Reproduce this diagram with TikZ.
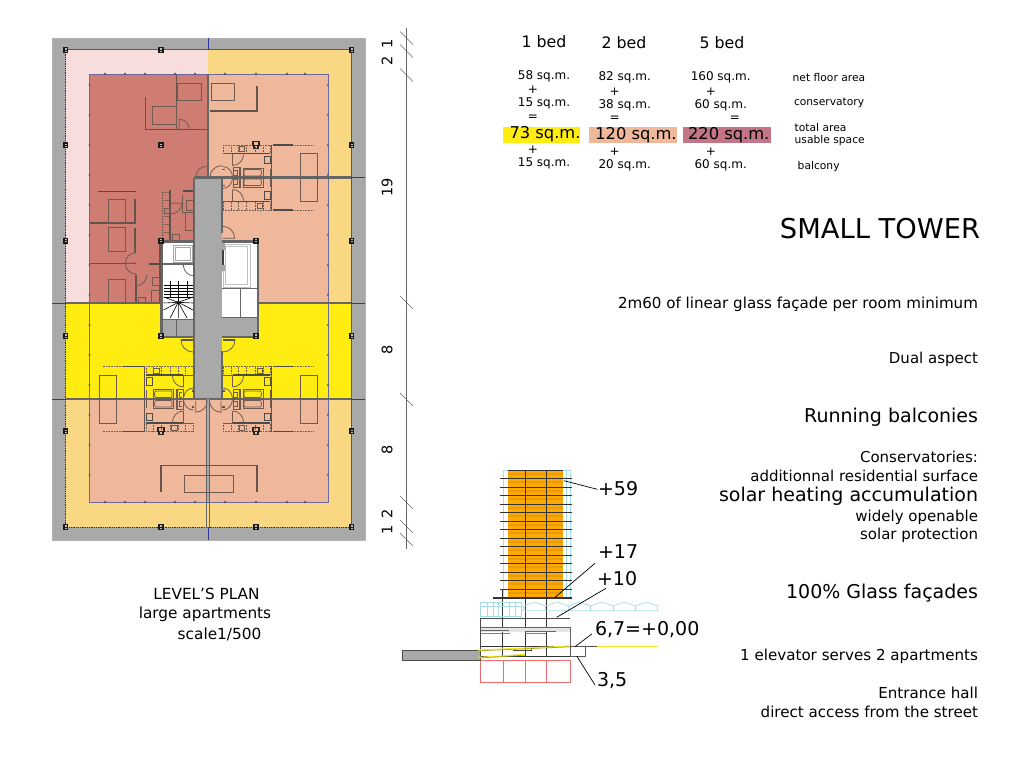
\documentclass[tikz,border=0pt]{standalone}
\usepackage{fontspec}
\setmainfont{DejaVu Sans}
\definecolor{slab}{HTML}{A9A9A9}
\definecolor{palepink}{HTML}{F7DEDC}
\definecolor{paleorange}{HTML}{FAD782}
\definecolor{brightyellow}{HTML}{FFEC10}
\definecolor{redapt}{HTML}{CF7C72}
\definecolor{orangeapt}{HTML}{F0B89A}
\definecolor{rosebox}{HTML}{C27585}
\definecolor{towerorange}{HTML}{FFA800}
\definecolor{towerband}{HTML}{E89C08}
\definecolor{gridblue}{HTML}{2A3A9A}
\definecolor{edgeblue}{HTML}{6A6A9E}
\definecolor{wallgrey}{HTML}{666666}
\definecolor{fitline}{HTML}{6E5C52}
\definecolor{glassblue}{HTML}{A8DCE8}
\definecolor{redline}{HTML}{F26A6A}
\definecolor{lineyellow}{HTML}{F5E820}
\tikzset{
  txt/.style={inner sep=0pt,outer sep=0pt,font=\fontsize{#1}{#1}\selectfont},
  txt/.default=12,
  rtxt/.style={txt=#1,anchor=east},
  ltxt/.style={txt=#1,anchor=west},
  wall/.style={draw=wallgrey,line width=2.1pt},
  thinwall/.style={draw=fitline!90!black,line width=1.3pt},
  fit/.style={draw=fitline,line width=0.8pt},
  fitdot/.style={draw=fitline,line width=0.6pt,densely dotted},
  darkfit/.style={draw=black!70,line width=1.2pt},
  gridline/.style={draw=gridblue,line width=0.9pt},
  glass/.style={draw=glassblue,line width=0.7pt},
  floorline/.style={draw=black!80,line width=1pt},
  podium/.style={draw=black!70,line width=1.5pt},
  leader/.style={draw=black,line width=0.7pt},
  dim/.style={draw=black!60,line width=0.5pt},
  col/.style={draw=black!90,fill=black!25,line width=1.4pt}
}
% door swing: hinge (#1,#2), directions #3,#4, radius #5; leaf along y or x
\newcommand\doorv[5]{\draw[fit] ({#1},{#2}) -- ({#1},{#2+#4*#5}) .. controls ({#1+#3*0.55*#5},{#2+#4*#5}) and ({#1+#3*#5},{#2+#4*0.55*#5}) .. ({#1+#3*#5},{#2});}
\newcommand\doorh[5]{\draw[fit] ({#1},{#2}) -- ({#1+#3*#5},{#2}) .. controls ({#1+#3*#5},{#2+#4*0.55*#5}) and ({#1+#3*0.55*#5},{#2+#4*#5}) .. ({#1},{#2+#4*#5});}
\newcommand\bathmodule[1]{%
  \path[fitdot] (1,-32.5) rectangle (48,-24);
  \foreach \x in {9,16,24,33,41}{\path[fitdot] (\x,-32.5) -- (\x,-24);}
  \path[fitdot] (49,-32.5) -- (91,-32.5);
  \path[darkfit] (11,-24) -- (48,-24);
  \path[fit] (1,-24) -- (11,-24);
  \path[thinwall] (49.5,-32.5) -- (49.5,0);
  \path[darkfit] (51,-32.5) -- (71,-32.5);
  \path[fit] (78,-24) rectangle (95,0);
  \path[fit] (21,-9.5) rectangle (41,0);
  \path[fit] (23,-8) -- (38,-8) .. controls (40,-8) and (40,-1.5) .. (38,-1.5) -- (23,-1.5) .. controls (21.5,-1.5) and (21.5,-8) .. (23,-8);
  \path[darkfit,line width=0.9pt] (42,-21.5) rectangle (48,-14);
  \path[fit] (#1,-31) rectangle (#1+5.5,-26);
  \path[fit,line width=1pt] (10.5,-24) -- (10.5,-12);
  \path[fit] (21.5,-23) .. controls (21.5,-17) and (16.5,-12) .. (10.5,-12);
  \path[fit] (10.5,0) .. controls (10.5,-6) and (6.5,-11) .. (0.5,-11);
  \path[fit] (11,-10) rectangle (18,0);
  \path[fit] (12,-7) -- (15,-7) -- (15,-2) -- (12,-2);
  \path[fit] (17,-10) -- (17,0) (41,-10) -- (41,0) (48,-9) -- (48,0);
  \path[thinwall] (0,-8) -- (2.5,-8);
}
\begin{document}
\begin{tikzpicture}[x=1pt,y=-1pt]
\useasboundingbox (0,0) rectangle (1024,768);
\fill[white] (0,0) rectangle (1024,768);
% --- plan: slab and balconies
\fill[slab] (52,38) rectangle (365,540);
\draw[black!30,line width=0.6pt] (52,38) rectangle (365,540);
\fill[palepink] (65.5,50) rectangle (208,303);
\fill[paleorange] (208,50) rectangle (351,303);
\fill[paleorange] (65.5,399) rectangle (351,527);
\fill[brightyellow] (65.5,303) rectangle (351,399);
\fill[redapt] (89.5,74) rectangle (208,303);
\fill[orangeapt] (208,74) rectangle (328,303);
\fill[orangeapt] (89.5,399) rectangle (328,502);
% perimeter
\draw[black!65,line width=1pt] (65.5,50) -- (351,50) -- (351,527);
\draw[black!80,line width=0.8pt,densely dotted] (65.5,50) -- (65.5,527) -- (351,527);
% floor edge
\draw[edgeblue,line width=0.9pt] (89.5,74) rectangle (328,502);
\foreach \p in {85,115,145,175,205,235,265,295,325,355,385,415,445,475}{
  \fill[edgeblue!80!black] (89.5,\p) circle (1.2);
  \fill[edgeblue!80!black] (328,\p) circle (1.2);
}
\foreach \p in {105,125,145,175,195,225,256,287,305}{
  \fill[edgeblue!80!black] (\p,74) circle (1.3);
  \fill[edgeblue!80!black] (\p,502) circle (1.3);
}
% core
\fill[white] (162,241.5) rectangle (194,319);
\fill[slab] (162,319) rectangle (194,336);
\fill[white] (222,241.5) rectangle (258,317);
\fill[slab] (222,317) rectangle (258,336);
\fill[slab] (194,177.5) rectangle (222,399);
\draw[wall] (161.5,241.5) -- (194,241.5);
\draw[wall] (222,241.5) -- (258,241.5) -- (258,337);
\draw[wall] (161.5,241.5) -- (161.5,337);
\draw[wall] (194,177.5) -- (194,399);
\draw[wall] (222,177.5) -- (222,233) (222,351) -- (222,399);
\draw[black!35,line width=1pt] (173,245) rectangle (192.7,262.7);
\draw[black!35,line width=0.6pt] (175.5,247.5) rectangle (190.2,260.2);
\draw[black!60,line width=1.2pt] (162,264) -- (194,264);
\doorv{194.3}{265}{-1}{1}{11}
\draw[black!25,line width=1pt] (223,244) rectangle (250,287);
\draw[black!25,line width=0.7pt] (225.5,246.5) rectangle (247.5,284.5);
\draw[black!75,line width=1.8pt] (223,250) -- (223,265);
\fill[black!35] (221,243) rectangle (225,250) (221,265) rectangle (225,271);
\draw[black!60,line width=1pt] (222,288) -- (258,288);
\draw[black!60,line width=1pt] (240.7,288) -- (240.7,317) (222,317) -- (258,317);
\draw[black!60,line width=1pt] (176.7,319) -- (176.7,336) (162,319) -- (194,319);
% stairs
\foreach \y in {285,288,291,294,297}{\draw[black,line width=0.7pt] (163.5,\y) -- (193,\y);}
\draw[black,line width=0.9pt] (178.3,281) -- (178.3,302.3);
\draw[black,line width=0.7pt] (170,281) -- (170,297) (187,281) -- (187,297);
\draw[black,line width=0.6pt] (178.3,302.3) -- (163.5,297) (178.3,302.3) -- (163.5,303) (178.3,302.3) -- (163.5,310) (178.3,302.3) -- (170,318) (178.3,302.3) -- (178.3,318) (178.3,302.3) -- (187,318) (178.3,302.3) -- (193,310) (178.3,302.3) -- (193,303) (178.3,302.3) -- (193,297);
\fill[black] (178.3,302.3) circle (1.4);
% structural walls
\draw[wall] (208,74) -- (208,177.5);
\draw[wall,line width=2.9pt] (194,177.5) -- (351,177.5);
\draw[wall,line width=2.9pt] (65.5,303) -- (162,303) (258,303) -- (351,303) (65.5,399) -- (351,399);
\draw[wallgrey,line width=0.9pt,fill=slab] (206.5,398) rectangle (209.5,502);
\draw[black!60,line width=0.6pt,fill=paleorange] (206.5,502) rectangle (209.5,527);
\draw[wall] (161.5,337) -- (194,337) (222,337) -- (258,337);
\draw[black!70,line width=1.2pt] (223,340) -- (235,340) (193,340) -- (181,340);
% right upper apartment partitions
\draw[thinwall] (210,111) -- (257,111) -- (257,86);
\draw[fit] (211,83) rectangle (234,100.7);
% left red apartment partitions
\draw[thinwall] (145.7,97) -- (145.7,129.3) -- (207,129.3);
\draw[thinwall] (176.7,75) -- (176.7,129.3);
\draw[fit] (152.7,106) rectangle (176.7,124);
\draw[fit] (177.7,83) rectangle (201.7,100.7);
\doorv{179.3}{129.3}{1}{-1}{10}
\doorh{206.7}{177.3}{-1}{-1}{11}
\doorh{221.7}{177.3}{-1}{-1}{11.7}
\draw[darkfit,line width=0.9pt] (98,191.3) -- (136,191.3);
\draw[thinwall] (135,199) -- (135,223) -- (90,223);
\draw[thinwall] (135,228) -- (135,253);
\draw[thinwall] (90,263.3) -- (136,263.3);
\draw[fit] (108.7,199) rectangle (125.3,222.7);
\draw[fit] (108.7,227.7) rectangle (125.3,251);
\draw[fit] (108.7,279) rectangle (125.3,303);
\doorh{136}{263.3}{-1}{-1}{10.7}
\doorh{136}{263.3}{-1}{1}{10.7}
\draw[thinwall] (136,275) -- (136,303);
% red bathrooms
\draw[fitdot] (162,192) rectangle (170,240);
\foreach \y in {200,208,216,224,232}{\draw[fitdot] (162,\y) -- (170,\y);}
\draw[thinwall] (170,190) -- (170,240);
\draw[darkfit] (182.7,191) -- (193,191);
\draw[fit] (185,212) rectangle (193,230);
\draw[fit] (186,200) rectangle (193,210);
\draw[fit] (172.7,234) rectangle (179,240);
\draw[fit] (164,208) rectangle (169,213);
\doorh{171}{203.3}{1}{1}{10.7}
\draw[fit] (182,195) -- (182,212) (182,212) -- (193,212);
\doorv{136}{275}{1}{1}{10.7}
\draw[darkfit] (149,264) -- (160,264);
\draw[thinwall] (160,241) -- (160,303);
\draw[fit] (151.7,290) rectangle (160,302);
\draw[fit] (152,277) rectangle (159,285);
\draw[fit] (138,297) rectangle (145,302);
% service modules
\begin{scope}[shift={(222,177.5)}]\bathmodule{17}\end{scope}
\begin{scope}[shift={(222,177.5)},yscale=-1]\bathmodule{35}\end{scope}
\begin{scope}[shift={(222,399)}]\bathmodule{35}\end{scope}
\begin{scope}[shift={(222,399)},yscale=-1]\bathmodule{17}\end{scope}
\begin{scope}[shift={(194,399)},xscale=-1]\bathmodule{35}\end{scope}
\begin{scope}[shift={(194,399)},xscale=-1,yscale=-1]\bathmodule{17}\end{scope}
% doors to core
\doorh{223}{340}{1}{1}{12}
\doorh{193}{340}{-1}{1}{12}
\doorh{222.7}{238.3}{1}{-1}{12}
\doorv{195.7}{400.7}{1}{1}{11.5}
\doorv{221}{400.7}{-1}{1}{11.5}
% lower apartment
\draw[thinwall] (161,491.7) -- (161,465.7) -- (257,465.7) -- (257,491.7);
\draw[fit] (184,475) rectangle (233,492);
% WC marks
\foreach \x/\y in {256/145.3,161/431.3,256/431.3}{
  \draw[black!85,line width=1.2pt] (\x-3,\y-4) rectangle (\x+3,\y);
  \draw[black!85,line width=1.2pt] (\x-2,\y) rectangle (\x+2,\y+3);
}
% columns
\foreach \x/\y in {65.7/50,161/50,351.7/50,
  65.7/145.3,161/145.3,351.7/145.3,
  65.7/240.7,161/240.7,256/240.7,351.7/240.7,
  65.7/336,161/336,256/336,351.7/336,
  65.7/431.3,351.7/431.3,
  65.7/527,161/527,256/527,351.7/527}{
    \draw[col] (\x-1.9,\y-2.4) rectangle (\x+1.9,\y+2.4);
    \fill[black!90] (\x-1.9,\y-0.4) rectangle (\x+1.9,\y+0.4);
}
% grid ticks
\draw[gridline] (208,38) -- (208,50) (208,527) -- (208,540);
\draw[gridline] (52,303) -- (65.5,303) (351,303) -- (365,303);
\draw[gridline] (52,399) -- (65.5,399) (351,399) -- (365,399);
\draw[gridline] (351,177.5) -- (365,177.5);
% dimension line
\coordinate (dimtop) at (406.5,28);
\coordinate (dimbot) at (406.5,549);
\draw[dim,line width=0.9pt] (dimtop) -- (dimbot);
\foreach \y in {38,51,75,302.5,399.5,502.5,526.5,539.5}{\draw[dim] (400,\y-6.5) -- (413,\y+6.5);}
\node[txt=14.5,rotate=90] (d1) at (387,43.5) {1};
\node[txt=14.5,rotate=90] (d2) at (387,61) {2};
\node[txt=14.5,rotate=90] (d19) at (387,187) {19};
\node[txt=14.5,rotate=90] (d8a) at (387,350) {8};
\node[txt=14.5,rotate=90] (d8b) at (387,450) {8};
\node[txt=14.5,rotate=90] (d2b) at (387,514) {2};
\node[txt=14.5,rotate=90] (d1b) at (387,530) {1};
% plan caption
\node[txt=15.3] (c1) at (206.5,593.5) {LEVEL'S PLAN};
\node[txt=15.3] (c2) at (205,614.5) {large apartments};
\node[txt=15.3] (c3) at (219.5,634.5) {scale1/500};
% table
\fill[brightyellow] (503.3,126.7) rectangle (580,142.7);
\fill[orangeapt] (589,126.7) rectangle (677,142.7);
\fill[rosebox] (683,126.7) rectangle (770.7,142.7);
\node[txt=15.8] (h1) at (544,41.7) {1 bed};
\node[txt=15.8] (h2) at (624,43) {2 bed};
\node[txt=15.8] (h3) at (722,43) {5 bed};
\node[txt=12] (a1) at (544,76.5) {58 sq.m.};
\node[txt=12] (a2) at (533,90) {+};
\node[txt=12] (a3) at (544,103.8) {15 sq.m.};
\node[txt=12] (a4) at (533,117.5) {=};
\node[txt=16.3] (a5) at (545,134.5) {73 sq.m.};
\node[txt=12] (a6) at (533,150) {+};
\node[txt=12] (a7) at (544,163.5) {15 sq.m.};
\node[txt=12] (b1) at (624.7,77.5) {82 sq.m.};
\node[txt=12] (b2) at (614.7,91.5) {+};
\node[txt=12] (b3) at (624.7,105.2) {38 sq.m.};
\node[txt=12] (b4) at (614.7,118.8) {=};
\node[txt=16.3] (b5) at (636,135.5) {120 sq.m.};
\node[txt=12] (b6) at (614.7,152) {+};
\node[txt=12] (b7) at (624.7,165.5) {20 sq.m.};
\node[txt=12] (e1) at (720.7,77.5) {160 sq.m.};
\node[txt=12] (e2) at (711,91.5) {+};
\node[txt=12] (e3) at (720.7,105.2) {60 sq.m.};
\node[txt=12] (e4) at (735,118.8) {=};
\node[txt=16.3] (e5) at (728.7,135.5) {220 sq.m.};
\node[txt=12] (e6) at (711,152) {+};
\node[txt=12] (e7) at (720.7,165.5) {60 sq.m.};
\node[ltxt=10.7] (l1) at (792.7,78) {net floor area};
\node[ltxt=10.7] (l2) at (794,102.5) {conservatory};
\node[ltxt=10.7] (l3) at (794.7,128) {total area};
\node[ltxt=10.7] (l4) at (794.7,141) {usable space};
\node[ltxt=10.7] (l5) at (797.7,166.5) {balcony};
% right column
\node[rtxt=27.3] (t1) at (980,228.5) {SMALL TOWER};
\node[rtxt=15.1] (t2) at (978,304.5) {2m60 of linear glass façade per room minimum};
\node[rtxt=15] (t3) at (978,359.5) {Dual aspect};
\node[rtxt=19] (t4) at (978,417.5) {Running balconies};
\node[rtxt=15] (t5) at (978,456.5) {Conservatories:};
\node[rtxt=15] (t6) at (978,475.5) {additionnal residential surface};
\node[rtxt=19] (t7) at (978,496.5) {solar heating accumulation};
\node[rtxt=15] (t8) at (978,517.5) {widely openable};
\node[rtxt=15] (t9) at (978,535.5) {solar protection};
\node[rtxt=19] (t10) at (978,593.5) {100\% Glass façades};
\node[rtxt=15.1] (t11) at (978,656.5) {1 elevator serves 2 apartments};
\node[rtxt=15.1] (t12) at (978,692.5) {Entrance hall};
\node[rtxt=15.1] (t13) at (978,711.5) {direct access from the street};
% section
\fill[towerorange] (508,470) rectangle (563,598);
\draw[glass] (503,470) rectangle (570,598);
\draw[glass] (566,470) -- (566,598);
\foreach \n in {0,...,14}{
  \fill[towerband] (508,472.5+\n*8.5) rectangle (563,474.5+\n*8.5);
}
\foreach \n in {1,...,15}{
  \draw[floorline] (500,470+\n*8.5) -- (571.7,470+\n*8.5);
}
\draw[floorline] (508,470) -- (563,470);
\draw[floorline,line width=1.3pt] (493,598) -- (571.7,598);
\draw[floorline] (525,470) -- (525,656.5) (546.7,470) -- (546.7,656.5);
\draw[floorline,line width=1.2pt] (502.7,589) -- (502.7,656.5);
% glass sawtooth and greenhouse
\draw[glass] (480.7,602) rectangle (521.7,616.7);
\foreach \x in {487,493,498,509,515}{\draw[glass] (\x,602) -- (\x,616.7);}
\draw[glass] (480.7,606.5) -- (521.7,606.5);
\draw[glass] (523.3,606) -- (534.5,602) -- (545.7,606) -- (556.9,602) -- (568.1,606) -- (579.3,602) -- (590.5,606) -- (601.7,602) -- (612.9,606) -- (624.1,602) -- (635.3,606) -- (646.5,602) -- (657.7,606) -- (657.7,610.7) -- (523.3,610.7) -- cycle;
\foreach \x in {545.7,568.1,590.5,612.9,635.3}{\draw[glass] (\x,606) -- (\x,610.7);}
% podium
\fill[black!10] (480.7,627) rectangle (570,632);
\draw[podium] (480.7,656.5) -- (480.7,618.3) -- (570,618.3);
\draw[black!60,line width=1pt] (570,627) -- (570,656.5);
\draw[black!60,line width=1pt] (480.7,627.5) -- (570,627.5);
\draw[black!60,line width=1pt] (480.7,630.5) -- (509,630.5) (525,631.5) -- (556,631.5);
\draw[black!50,line width=0.8pt] (480.7,633.5) -- (510,633.5) (525,633.5) -- (546,633.5);
\draw[floorline] (480.7,646.7) -- (570,646.7);
\draw[floorline] (480.7,656.5) -- (570,656.5);
\draw[black!70,line width=0.8pt] (512.5,646.7) -- (531,646.7) -- (531,650) -- (512.5,650);
% red basement
\draw[redline,line width=0.8pt] (480.7,660) rectangle (570,682.7);
\draw[redline,line width=0.8pt] (503.3,660) -- (503.3,682.7) (525,660) -- (525,682.7) (546.7,660) -- (546.7,682.7);
% ground
\draw[black!70,fill=slab,line width=0.8pt] (402,650.7) rectangle (480,660);
\draw[lineyellow,line width=1pt] (596.7,646.3) -- (658,646.3);
\draw[black!70,line width=0.8pt] (570,646.3) -- (596.7,646.3);
\draw[lineyellow!70!black,line width=1pt] (478,650.7) -- (570,646.7);
\draw[lineyellow,line width=0.9pt] (478,650) -- (570,646);
\draw[lineyellow!70!black,line width=1pt] (478,658) -- (525,655);
\draw[lineyellow,line width=0.9pt] (478,657.3) -- (525,654.3);
\draw[black!65,fill=white,line width=0.7pt] (570,646.7) rectangle (585.7,656);
% section labels and leaders
\node[ltxt=19] (n59) at (598,488.5) {+59};
\node[ltxt=19] (n17) at (598,551.5) {+17};
\node[ltxt=19] (n10) at (597,579) {+10};
\node[ltxt=19] (n67) at (595,629.5) {6,7=+0,00};
\node[ltxt=19] (n35) at (597,680.5) {3,5};
\coordinate (p59) at (564,480.7);
\coordinate (q59) at (597.3,489.3);
\coordinate (p17) at (555,597.3);
\coordinate (q17) at (595,563.3);
\coordinate (p10) at (556.7,617.3);
\coordinate (q10) at (606,588.3);
\coordinate (p67) at (575,646.7);
\coordinate (q67) at (591.7,634);
\coordinate (p35) at (576.7,656);
\coordinate (q35) at (595,685);
\draw[leader] (p59) -- (q59);
\draw[leader] (p17) -- (q17);
\draw[leader] (p10) -- (q10);
\draw[leader] (p67) -- (q67);
\draw[leader] (p35) -- (q35);
\end{tikzpicture}
\end{document}
